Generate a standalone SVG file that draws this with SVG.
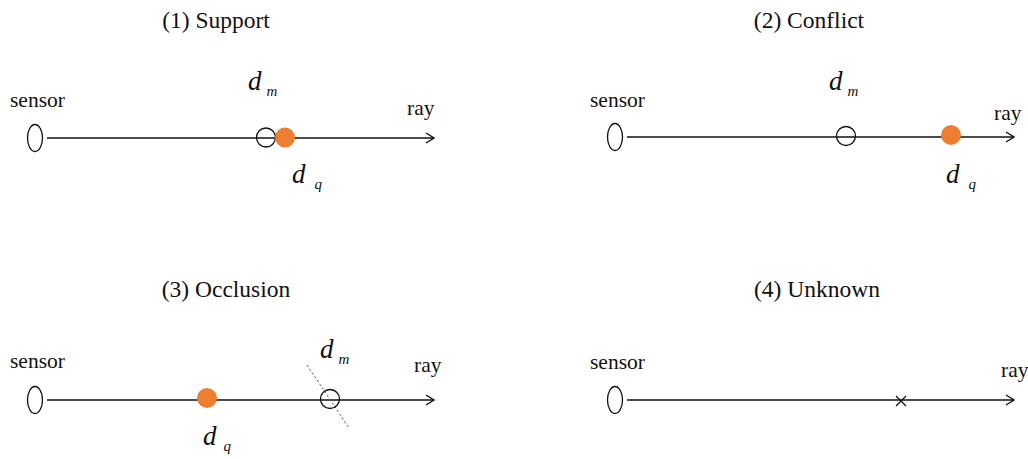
<svg xmlns="http://www.w3.org/2000/svg" width="1028" height="459" viewBox="0 0 1028 459">
<defs>
<style>
text{font-family:'Liberation Serif','Times New Roman','DejaVu Serif',serif;fill:#111;}
.title{font-size:23.5px;text-anchor:middle;}
.lbl{font-size:21.5px;}
.d{font-size:27px;font-style:italic;}
.sub{font-size:15px;font-style:italic;}
.ray{stroke:#111;stroke-width:1.6;fill:none;}
.sensor{fill:#fff;stroke:#111;stroke-width:1.3;}
.hollow{fill:none;stroke:#111;stroke-width:1.3;}
.dot{fill:#ED7D31;}
</style>
<marker id="arr" viewBox="0 0 10 12" refX="9" refY="6" markerWidth="10" markerHeight="12" markerUnits="userSpaceOnUse" orient="auto">
<path d="M1,1 L9,6 L1,11" fill="none" stroke="#111" stroke-width="1.4"/>
</marker>
</defs>
<rect width="1028" height="459" fill="#fff"/>

<g id="connectors">
<line class="ray" x1="47" y1="138" x2="434" y2="138" marker-end="url(#arr)"/>
<line class="ray" x1="627" y1="137" x2="1014" y2="137" marker-end="url(#arr)"/>
<line class="ray" x1="47" y1="400" x2="434" y2="400" marker-end="url(#arr)"/>
<line class="ray" x1="627" y1="400" x2="1014" y2="400" marker-end="url(#arr)"/>
</g>

<g id="panel1" font-family="Liberation Serif, serif">
<text class="title" x="216" y="28">(1) Support</text>
<text class="lbl" x="10" y="107">sensor</text>
<text class="lbl" x="407" y="115">ray</text>
<ellipse id="sensor1" class="sensor" cx="35" cy="138" rx="7.5" ry="13.5"/>
<circle id="dm1" class="hollow" cx="266" cy="137.5" r="9.5"/>
<circle id="dq1" class="dot" cx="285" cy="137.5" r="10"/>
<text x="248" y="90"><tspan class="d">d</tspan><tspan class="sub" dx="5" dy="6">m</tspan></text>
<text x="292" y="183"><tspan class="d">d</tspan><tspan class="sub" dx="9" dy="6">q</tspan></text>
</g>

<g id="panel2" font-family="Liberation Serif, serif">
<text class="title" x="809" y="28">(2) Conflict</text>
<text class="lbl" x="590" y="107">sensor</text>
<text class="lbl" x="994" y="120">ray</text>
<ellipse id="sensor2" class="sensor" cx="615" cy="137" rx="7.5" ry="13.5"/>
<circle id="dm2" class="hollow" cx="846" cy="136" r="9.5"/>
<circle id="dq2" class="dot" cx="951" cy="135" r="10"/>
<text x="829" y="90"><tspan class="d">d</tspan><tspan class="sub" dx="5" dy="6">m</tspan></text>
<text x="946" y="183"><tspan class="d">d</tspan><tspan class="sub" dx="9" dy="6">q</tspan></text>
</g>

<g id="panel3" font-family="Liberation Serif, serif">
<text class="title" x="226" y="297">(3) Occlusion</text>
<text class="lbl" x="10" y="368">sensor</text>
<text class="lbl" x="414" y="372">ray</text>
<ellipse id="sensor3" class="sensor" cx="35" cy="400" rx="7.5" ry="13.5"/>
<circle id="dq3" class="dot" cx="207" cy="398" r="10"/>
<line x1="307" y1="365" x2="349" y2="428" stroke="#555" stroke-width="0.9" stroke-dasharray="2.5,2"/>
<circle id="dm3" class="hollow" cx="330" cy="399" r="9.5"/>
<text x="320" y="358"><tspan class="d">d</tspan><tspan class="sub" dx="5" dy="6">m</tspan></text>
<text x="203" y="445"><tspan class="d">d</tspan><tspan class="sub" dx="7" dy="6">q</tspan></text>
</g>

<g id="panel4" font-family="Liberation Serif, serif">
<text class="title" x="817" y="297">(4) Unknown</text>
<text class="lbl" x="590" y="369">sensor</text>
<text class="lbl" x="1001" y="377">ray</text>
<ellipse id="sensor4" class="sensor" cx="615" cy="400" rx="7.5" ry="13.5"/>
<path id="unknown4" d="M896,396 L906,406 M906,396 L896,406" stroke="#111" stroke-width="1.3" fill="none"/>
</g>
</svg>
